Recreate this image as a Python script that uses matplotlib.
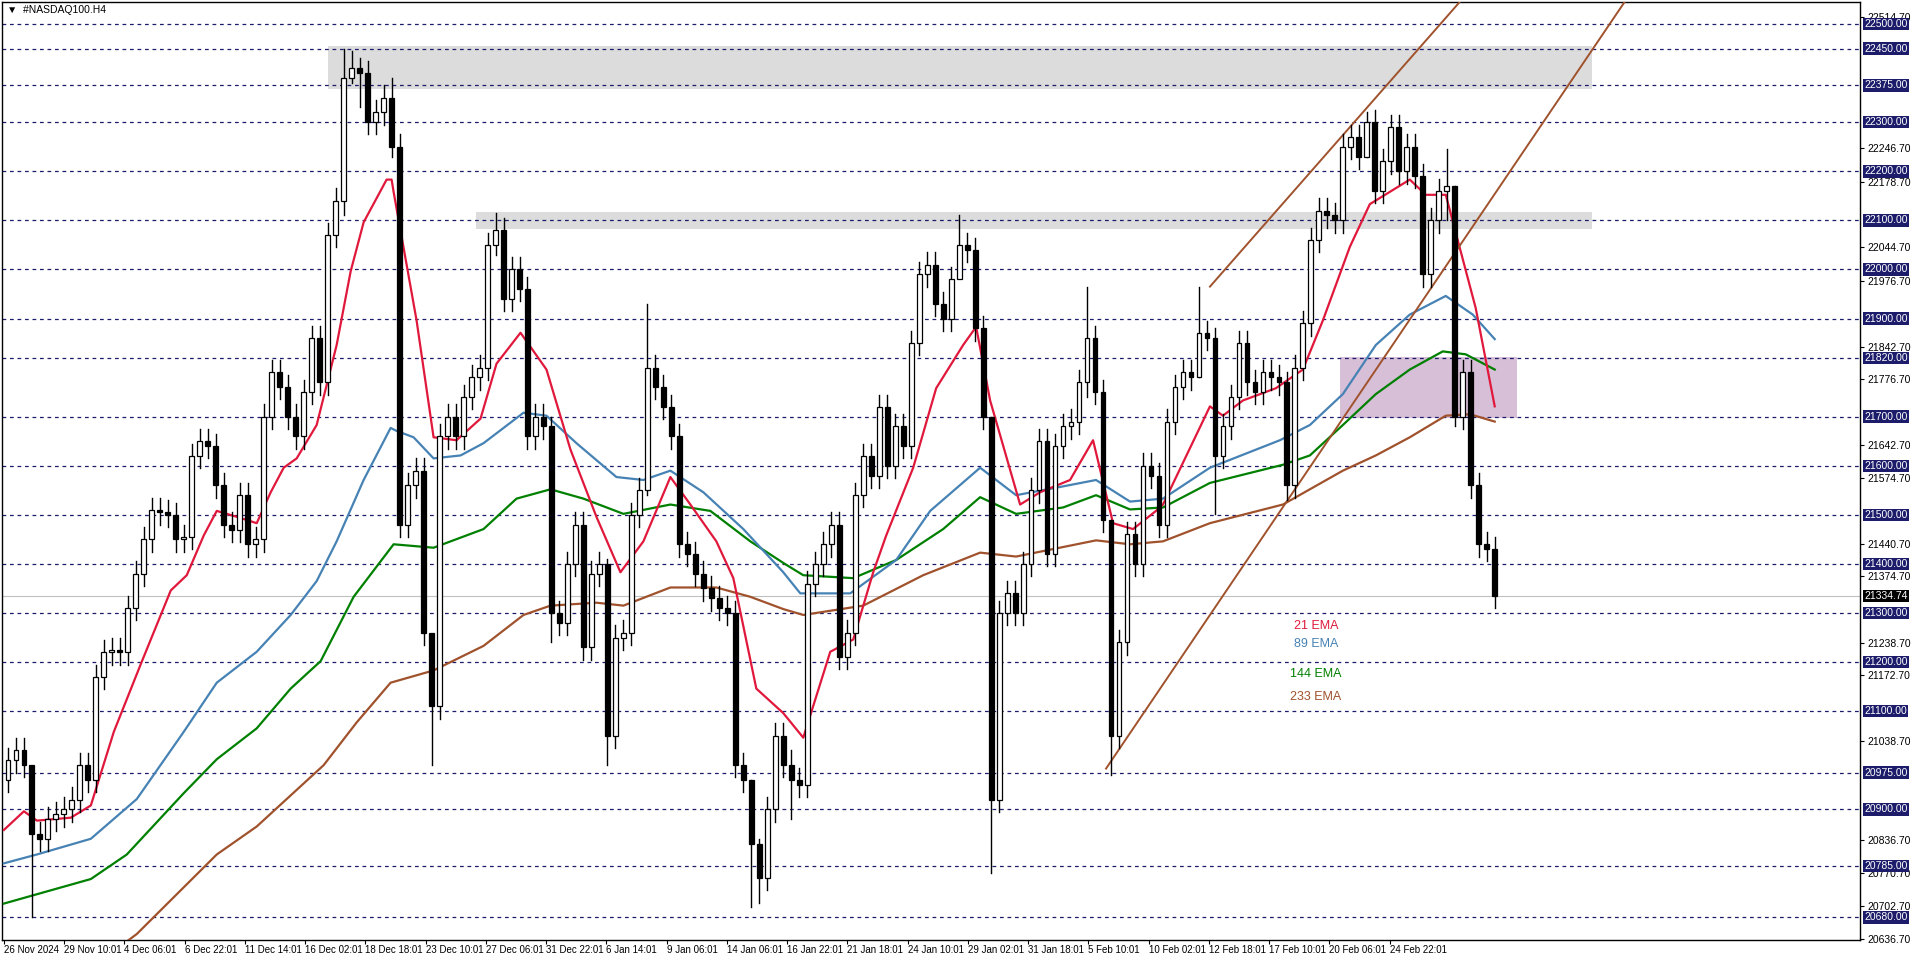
import numpy as np
import matplotlib
matplotlib.use('Agg')
import matplotlib.pyplot as plt
import matplotlib.patches as mpatches

# ── data (2-bar candles, H4) ─────────────────────────────────────────────────
CLOSES = [
    21000, 21020, 20990, 20850, 20840, 20880, 20890, 20900, 20920, 20990,
    20960, 21170, 21220, 21225, 21220, 21310, 21380, 21450, 21510, 21505,
    21500, 21450, 21455, 21620, 21650, 21640, 21560, 21480, 21470, 21540,
    21440, 21450, 21700, 21790, 21760, 21700, 21660, 21750, 21860, 21770,
    22070, 22140, 22390, 22410, 22400, 22300, 22320, 22350, 22250, 21480,
    21560, 21590, 21260, 21110, 21660, 21700, 21660, 21740, 21780, 21800,
    22050, 22080, 21940, 22000, 21960, 21660, 21700, 21680, 21300, 21280,
    21400, 21480, 21230, 21380, 21400, 21050, 21250, 21260, 21500, 21550,
    21800, 21760, 21720, 21660, 21440, 21420, 21380, 21350, 21330, 21310,
    21300, 20990, 20960, 20830, 20760, 20900, 21050, 20990, 20960, 20950,
    21360, 21400, 21440, 21480, 21210, 21260, 21540, 21620, 21580, 21720,
    21600, 21680, 21640, 21850, 21990, 22010, 21930, 21900, 21980, 22050,
    22040, 21880, 21700, 20920, 21300, 21340, 21300, 21400, 21550, 21650,
    21420, 21640, 21680, 21690, 21770, 21860, 21750, 21490, 21050, 21240,
    21460, 21400, 21600, 21580, 21480, 21690, 21760, 21790, 21780, 21870,
    21860, 21620, 21680, 21740, 21850, 21770, 21750, 21790, 21780, 21770,
    21560, 21800, 21890, 22060, 22120, 22110, 22100, 22250, 22270, 22230,
    22300, 22160, 22220, 22290, 22200, 22250, 22190, 21990, 22100, 22160,
    22170, 21700, 21790, 21560, 21440, 21430, 21335,
]
FIRST_OPEN = 20960
# notable wicks: candle index -> (high, low)
SPIKES = {
    3: (20900, 20680), 42: (22450, 22110), 43: (22445, 22380), 44: (22430, 22330),
    48: (22390, 22230), 53: (21250, 20990), 61: (22115, 22030), 68: (21700, 21240),
    75: (21410, 20990), 80: (21930, 21540), 93: (20960, 20700), 94: (20840, 20710),
    98: (21020, 20880), 119: (22110, 21990), 123: (21700, 20770), 135: (21965, 21740),
    138: (21490, 20970), 149: (21965, 21780), 151: (21880, 21502), 160: (21790, 21530),
    170: (22320, 22230), 180: (22246, 22100), 181: (22170, 21680),
}

# EMA curves, time in chart pixels (4 px per H4 bar)
EMA21_T = [0, 20, 33, 67, 87, 110, 137, 167, 183, 200, 213, 233, 253, 267, 280, 293, 313,
           333, 347, 360, 383, 388, 390, 413, 430, 453, 477, 493, 517, 543, 567, 593, 617,
           640, 667, 687, 713, 730, 753, 780, 800, 827, 850, 870, 883, 910, 933, 960, 973,
           987, 1017, 1037, 1067, 1090, 1110, 1130, 1153, 1160, 1207, 1220, 1240, 1273, 1300,
           1320, 1347, 1367, 1407, 1423, 1443, 1460, 1473, 1492]
EMA21_P = [20858, 20896, 20877, 20883, 20908, 21058, 21196, 21346, 21377, 21458, 21508, 21496,
           21483, 21546, 21596, 21615, 21683, 21846, 21996, 22096, 22183, 22183, 22158, 21896,
           21658, 21652, 21696, 21808, 21871, 21796, 21633, 21496, 21383, 21446, 21577, 21521,
           21446, 21371, 21146, 21096, 21046, 21221, 21246, 21383, 21458, 21596, 21758, 21846,
           21883, 21733, 21521, 21546, 21571, 21652, 21483, 21471, 21508, 21521, 21721, 21702,
           21733, 21758, 21796, 21896, 22046, 22133, 22183, 22152, 22152, 22021, 21921, 21721]

EMA89_T = [0, 33, 87, 133, 180, 213, 253, 287, 313, 333, 360, 387, 393, 410, 430, 457, 480,
           520, 543, 573, 613, 640, 667, 700, 740, 780, 797, 847, 893, 927, 977, 1013, 1060,
           1093, 1127, 1160, 1207, 1277, 1307, 1340, 1373, 1407, 1443, 1470, 1492]
EMA89_P = [20790, 20808, 20840, 20921, 21058, 21158, 21221, 21296, 21365, 21446, 21571, 21677,
           21671, 21658, 21615, 21621, 21646, 21708, 21702, 21646, 21577, 21571, 21590, 21546,
           21471, 21383, 21340, 21340, 21408, 21508, 21596, 21540, 21558, 21571, 21527, 21533,
           21596, 21652, 21683, 21746, 21846, 21908, 21946, 21908, 21858]

EMA144_T = [0, 33, 87, 123, 180, 213, 253, 287, 317, 350, 390, 430, 480, 513, 547, 580, 620,
            667, 707, 747, 780, 800, 850, 893, 940, 977, 1013, 1060, 1093, 1127, 1160, 1207,
            1280, 1307, 1340, 1373, 1407, 1440, 1463, 1492]
EMA144_P = [20708, 20727, 20758, 20808, 20933, 21002, 21065, 21146, 21202, 21333, 21440, 21433,
            21471, 21533, 21552, 21533, 21502, 21521, 21508, 21446, 21402, 21377, 21371, 21408,
            21471, 21536, 21502, 21515, 21540, 21511, 21515, 21565, 21602, 21621, 21683, 21746,
            21796, 21833, 21827, 21796]

EMA233_T = [60, 100, 133, 213, 253, 320, 353, 387, 430, 480, 520, 547, 593, 620, 667, 713, 747,
            780, 800, 860, 920, 977, 1013, 1093, 1127, 1160, 1207, 1280, 1340, 1373, 1407, 1443,
            1467, 1492]
EMA233_P = [20520, 20596, 20646, 20808, 20865, 20990, 21077, 21158, 21183, 21233, 21296, 21315,
            21321, 21315, 21352, 21352, 21333, 21308, 21296, 21315, 21377, 21423, 21415, 21448,
            21440, 21446, 21483, 21521, 21590, 21621, 21658, 21702, 21705, 21690]

CHANNEL_UP = ([1207, 1457], [21965, 22545])
CHANNEL_LO = ([1103, 1622], [20983, 22545])

ZONES = [  # (t0, t1, p_low, p_high, colour)
    (324, 1589, 22368, 22455, '#DCDCDC'),
    (472, 1589, 22083, 22116, '#DCDCDC'),
    (1337, 1514, 21698, 21821, '#D8BFD8'),
]

LEVELS = [22500, 22450, 22375, 22300, 22200, 22100, 22000, 21900, 21820, 21700, 21600,
          21500, 21400, 21300, 21200, 21100, 20975, 20900, 20785, 20680]
SCALE_TICKS = [22514.70, 22246.70, 22178.70, 22044.70, 21976.70, 21842.70, 21776.70,
               21642.70, 21574.70, 21440.70, 21374.70, 21238.70, 21172.70, 21038.70,
               20836.70, 20770.70, 20702.70, 20636.70]
LAST_PRICE = 21334.74

DATE_LABELS = ['26 Nov 2024', '29 Nov 10:01', '4 Dec 06:01', '6 Dec 22:01', '11 Dec 14:01',
               '16 Dec 02:01', '18 Dec 18:01', '23 Dec 10:01', '27 Dec 06:01', '31 Dec 22:01',
               '6 Jan 14:01', '9 Jan 06:01', '14 Jan 06:01', '16 Jan 22:01', '21 Jan 18:01',
               '24 Jan 10:01', '29 Jan 02:01', '31 Jan 18:01', '5 Feb 10:01', '10 Feb 02:01',
               '12 Feb 18:01', '17 Feb 10:01', '20 Feb 06:01', '24 Feb 22:01']
DATE_STEP_PX = 60.3   # chart pixels between date labels

# ── style ────────────────────────────────────────────────────────────────────
plt.rcParams['font.family'] = ['Liberation Sans', 'DejaVu Sans']
FS = 7.5
NAVY = '#1C1C6B'
RED, BLUE, GREEN, BROWN = '#E0193C', '#4682B4', '#008000', '#A0522D'
YMIN, YMAX = 20634, 22545

fig = plt.figure(figsize=(19.16, 9.63), dpi=100)
ax = fig.add_axes([0.001, 0.024, 0.970, 0.974])
t = lambda px: np.asarray(px, dtype=float) / 4.0   # chart pixels -> bar index

# zones
for t0, t1, lo, hi, col in ZONES:
    ax.add_patch(mpatches.Rectangle((t(t0), lo), t(t1) - t(t0), hi - lo,
                                    facecolor=col, edgecolor='none', zorder=1))

for lv in LEVELS:
    ax.axhline(lv, color=NAVY, lw=0.9, ls=(0, (3, 3)), zorder=2)
ax.axhline(LAST_PRICE, color='#C0C0C0', lw=0.8, zorder=2)

# candles
closes = np.array(CLOSES, dtype=float)
opens = np.concatenate([[FIRST_OPEN], closes[:-1]])
for i, (o, c) in enumerate(zip(opens, closes)):
    x = 2 * i + 1
    hi, lo = SPIKES.get(i, (max(o, c) + 25, min(o, c) - 25))
    ax.plot([x, x], [lo, hi], color='black', lw=1.0, zorder=4)
    up = c >= o
    ax.add_patch(mpatches.Rectangle((x - 0.6, min(o, c)), 1.2, max(abs(c - o), 2),
                                    facecolor='white' if up else 'black',
                                    edgecolor='black', lw=0.9, zorder=5))

# EMAs
ax.plot(t(EMA233_T), EMA233_P, color=BROWN, lw=1.6, zorder=3)
ax.plot(t(EMA144_T), EMA144_P, color=GREEN, lw=1.6, zorder=3)
ax.plot(t(EMA89_T), EMA89_P, color=BLUE, lw=1.6, zorder=3)
ax.plot(t(EMA21_T), EMA21_P, color=RED, lw=1.6, zorder=3)

# channel
for xs, ys in (CHANNEL_UP, CHANNEL_LO):
    ax.plot(t(xs), ys, color=BROWN, lw=1.4, zorder=3)

# legend texts
for txt, col, p in (('21 EMA', RED, 21274), ('89 EMA', BLUE, 21237),
                    ('144 EMA', GREEN, 21176), ('233 EMA', BROWN, 21128)):
    ax.text(t(1313), p, txt, color=col, fontsize=FS + 1.5, ha='center', va='center', zorder=6)

ax.text(0.003, 0.997, '\u25BC  #NASDAQ100.H4', transform=ax.transAxes, fontsize=FS,
        va='top', ha='left', zorder=7)

ax.set_xlim(-0.5, 464.5)
ax.set_ylim(YMIN, YMAX)

# x axis
ax.set_xticks(t(np.arange(len(DATE_LABELS)) * DATE_STEP_PX))
ax.set_xticklabels(DATE_LABELS, fontsize=7, ha='left')
ax.tick_params(axis='x', length=3, pad=1)

# right price scale
ax.yaxis.tick_right()
ax.set_yticks(SCALE_TICKS)
ax.set_yticklabels([f'{v:.2f}' for v in SCALE_TICKS], fontsize=FS)
ax.tick_params(axis='y', length=3, pad=2)
for lv in LEVELS:
    ax.text(1.002, lv, f'{lv:.2f}', transform=ax.get_yaxis_transform(), fontsize=FS,
            color='white', va='center', ha='left', zorder=8,
            bbox=dict(boxstyle='square,pad=0.12', facecolor=NAVY, edgecolor='none'))
ax.text(1.002, LAST_PRICE, f'{LAST_PRICE:.2f}', transform=ax.get_yaxis_transform(),
        fontsize=FS, color='white', va='center', ha='left', zorder=8,
        bbox=dict(boxstyle='square,pad=0.12', facecolor='black', edgecolor='none'))

for s in ax.spines.values():
    s.set_linewidth(1.0)

fig.savefig('out.png', dpi=100, facecolor='white')
